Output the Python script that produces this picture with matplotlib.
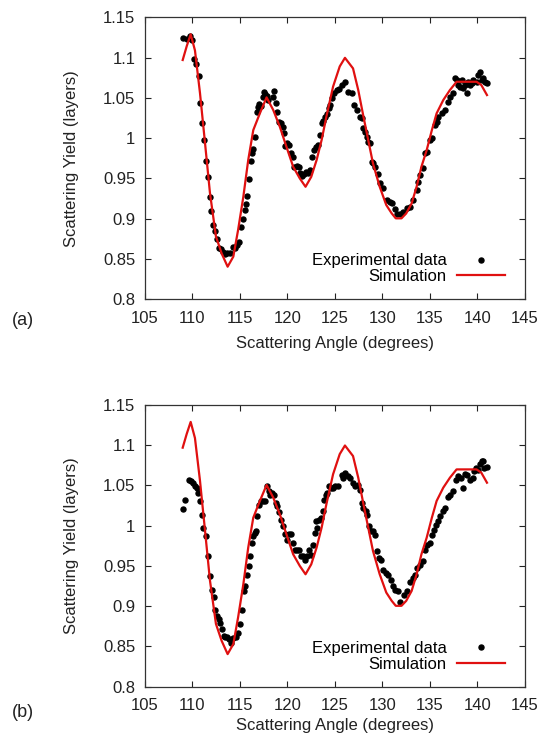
import matplotlib
matplotlib.use('Agg')
import matplotlib.pyplot as plt
from matplotlib.ticker import FormatStrFormatter

plt.rcParams['font.family'] = ['Liberation Sans', 'DejaVu Sans']

# simulation (same curve in both panels)
sim_angle = [108.97, 109.39, 109.81, 110.26, 110.79, 111.32, 111.84, 112.47, 113.07, 113.7,
             114.3, 114.8, 115.35, 115.87, 116.4, 117.1, 117.8, 118.5, 119.2, 119.9,
             120.6, 121.3, 121.9, 122.5, 123.07, 123.6, 124.1, 124.8, 125.5, 126.05,
             126.9, 127.45, 128.0, 128.5, 129.0, 129.7, 130.4, 130.97, 131.4, 132.0,
             132.5, 133.07, 133.6, 134.1, 134.65, 135.2, 135.7, 136.4, 137.1, 137.8,
             139.9, 140.4, 141.0]
sim_yield = [1.097, 1.114, 1.129, 1.109, 1.056, 0.994, 0.932, 0.878, 0.857, 0.8405,
             0.853, 0.886, 0.927, 0.973, 1.010, 1.031, 1.0506, 1.035, 1.014, 0.989,
             0.9645, 0.950, 0.9397, 0.952, 0.973, 0.998, 1.027, 1.064, 1.089, 1.0997,
             1.0866, 1.0597, 1.0266, 0.9977, 0.9687, 0.94, 0.917, 0.9067, 0.9005, 0.9005,
             0.9067, 0.919, 0.94, 0.9645, 0.985, 1.010, 1.0308, 1.0473, 1.0597, 1.07,
             1.07, 1.066, 1.0535]

# experimental data, panel (a)
angle_a = [108.96, 109.39, 109.74, 109.91, 110.16, 110.37, 110.65, 110.82, 111.04, 111.25,
           111.42, 111.63, 111.81, 111.95, 112.19, 112.40, 112.61, 112.82, 113.04, 113.25,
           113.46, 113.67, 113.95, 114.23, 114.44, 114.65, 114.89, 115.07, 115.28, 115.49,
           115.63, 115.70, 115.91, 116.12, 116.26, 116.40, 116.54, 116.75, 116.89, 117.04,
           117.18, 117.39, 117.53, 117.67, 117.81, 117.98, 118.44, 118.61, 118.75, 118.93,
           119.14, 119.32, 119.49, 119.63, 119.77, 119.91, 120.19, 120.33, 120.54, 120.72,
           120.96, 121.18, 121.32, 121.53, 121.74, 121.95, 122.19, 122.37, 122.58, 122.79,
           123.0, 123.18, 123.42, 123.60, 123.77, 123.95, 124.12, 124.33, 124.47, 124.68,
           124.89, 125.18, 125.46, 125.70, 126.05, 126.40, 126.75, 127.0, 127.28, 127.63,
           127.81, 127.98, 128.16, 128.33, 128.51, 128.68, 128.86, 129.04, 129.21, 129.56,
           129.74, 130.09, 130.44, 130.79, 130.96, 131.32, 131.49, 131.84, 132.19, 132.54,
           132.89, 133.25, 133.60, 133.77, 133.95, 134.30, 134.47, 134.65, 135.0, 135.18,
           135.53, 135.70, 135.88, 136.23, 136.58, 136.93, 137.11, 137.46, 137.63, 137.81,
           137.98, 138.16, 138.33, 138.51, 138.68, 138.86, 139.04, 139.21, 139.39, 139.56,
           139.91, 140.09, 140.26, 140.44, 140.61, 140.79, 140.96]
yield_a = [1.1247, 1.1226, 1.1267, 1.1218, 1.0978, 1.092, 1.0771, 1.0432, 1.0192, 0.9977,
           0.972, 0.9522, 0.9274, 0.9096, 0.8922, 0.8852, 0.8753, 0.8637, 0.8624, 0.8591,
           0.8562, 0.8571, 0.8579, 0.8645, 0.8637, 0.8674, 0.8715, 0.8902, 0.8997, 0.9108,
           0.9183, 0.9286, 0.9497, 0.972, 0.9811, 0.9861, 1.0018, 1.0328, 1.039, 1.0419,
           1.0403, 1.0506, 1.0568, 1.0548, 1.0523, 1.0473, 1.0514, 1.0589, 1.044, 1.0328,
           1.0204, 1.0184, 1.0142, 1.006, 0.9902, 0.9935, 0.9915, 0.9811, 0.977, 0.9646,
           0.9654, 0.9646, 0.9563, 0.9534, 0.9551, 0.9584, 0.9563, 0.9605, 0.977, 0.9853,
           0.9894, 0.991, 1.0039, 1.0192, 1.0213, 1.0258, 1.03, 1.037, 1.0411, 1.0494,
           1.0556, 1.0597, 1.0605, 1.0659, 1.07, 1.0577, 1.0556, 1.0411, 1.0349, 1.0266,
           1.0246, 1.0122, 1.008, 1.0018, 0.9956, 0.9935, 0.9708, 0.9687, 0.9638, 0.9555,
           0.9439, 0.9377, 0.9232, 0.9212, 0.9191, 0.9117, 0.9059, 0.9059, 0.9088, 0.9129,
           0.915, 0.9232, 0.9356, 0.946, 0.9543, 0.9625, 0.9811, 0.9832, 0.9977, 0.9998,
           1.0163, 1.0204, 1.0266, 1.0308, 1.0349, 1.0452, 1.0506, 1.0556, 1.0742, 1.0721,
           1.0659, 1.0639, 1.0721, 1.0618, 1.0659, 1.0556, 1.07, 1.0659, 1.068, 1.0721,
           1.07, 1.0783, 1.0825, 1.0721, 1.0742, 1.07, 1.068]

# experimental data, panel (b)
angle_b = [109.04, 109.25, 109.63, 109.84, 110.09, 110.30, 110.44, 110.61, 110.79, 111.0,
           111.14, 111.42, 111.60, 111.84, 112.02, 112.26, 112.40, 112.61, 112.75, 112.89,
           113.11, 113.32, 113.46, 113.67, 113.88, 114.09, 114.30, 114.54, 114.79, 115.0,
           115.21, 115.42, 115.56, 115.70, 115.91, 116.05, 116.26, 116.40, 116.54, 116.68,
           116.82, 117.04, 117.25, 117.46, 117.67, 117.88, 118.02, 118.16, 118.37, 118.58,
           118.79, 118.93, 119.14, 119.35, 119.56, 119.77, 119.91, 120.12, 120.33, 120.54,
           120.82, 121.04, 121.25, 121.46, 121.67, 121.88, 122.09, 122.30, 122.44, 122.65,
           122.86, 123.0, 123.14, 123.35, 123.49, 123.70, 123.84, 124.05, 124.19, 124.40,
           124.54, 124.75, 125.0, 125.35, 125.70, 125.88, 126.05, 126.40, 126.58, 126.86,
           127.11, 127.46, 127.63, 127.81, 127.98, 128.26, 128.40, 128.61, 128.75, 128.96,
           129.21, 129.39, 129.67, 129.84, 130.09, 130.37, 130.61, 130.86, 131.14, 131.32,
           131.67, 131.84, 132.26, 132.61, 132.89, 133.18, 133.42, 133.67, 133.95, 134.23,
           134.47, 134.72, 135.0, 135.18, 135.42, 135.63, 135.88, 136.05, 136.40, 136.58,
           136.93, 137.11, 137.46, 137.74, 137.98, 138.23, 138.44, 138.68, 138.93, 139.21,
           139.49, 139.63, 139.84, 140.05, 140.26, 140.47, 140.61, 140.68, 140.96]
yield_b = [1.0207, 1.0315, 1.0564, 1.056, 1.0531, 1.0498, 1.0469, 1.0407, 1.0303, 1.0137,
           0.9971, 0.9867, 0.9618, 0.9378, 0.9203, 0.912, 0.8954, 0.888, 0.8838, 0.8788,
           0.8714, 0.8631, 0.8614, 0.8622, 0.8589, 0.8539, 0.8602, 0.8622, 0.8664, 0.878,
           0.8954, 0.9183, 0.9253, 0.939, 0.9494, 0.9618, 0.9784, 0.9876, 0.9909, 0.9929,
           1.0124, 1.0261, 1.0303, 1.0303, 1.0303, 1.049, 1.0427, 1.0386, 1.0407, 1.0386,
           1.0282, 1.0241, 1.0166, 1.0075, 0.9992, 0.99, 0.9826, 0.99, 0.99, 0.9784,
           0.9701, 0.9693, 0.9693, 0.9618, 0.9618, 0.9577, 0.9627, 0.9693, 0.9639, 0.9763,
           0.9909, 1.0054, 0.9971, 1.0075, 1.0095, 1.0178, 1.0324, 1.0386, 1.0407, 1.049,
           1.0469, 1.0469, 1.049, 1.049, 1.0635, 1.0593, 1.0656, 1.0614, 1.0593, 1.0531,
           1.0498, 1.051, 1.0448, 1.0282, 1.022, 1.0178, 1.0137, 0.9992, 0.9929, 0.9929,
           0.9888, 0.968, 0.9598, 0.9577, 0.9452, 0.9411, 0.939, 0.9328, 0.9245, 0.9203,
           0.9183, 0.9058, 0.9141, 0.9183, 0.9307, 0.9349, 0.939, 0.9473, 0.9515, 0.9556,
           0.9701, 0.9763, 0.9784, 0.9888, 0.9942, 1.0004, 1.0054, 1.0116, 1.0187, 1.022,
           1.0357, 1.0386, 1.0427, 1.0573, 1.0614, 1.0593, 1.0469, 1.0647, 1.0635, 1.0573,
           1.0593, 1.0676, 1.0718, 1.0697, 1.0772, 1.0801, 1.0809, 1.0718, 1.073]

xticks = [105, 110, 115, 120, 125, 130, 135, 140, 145]
yticks = [0.8, 0.85, 0.9, 0.95, 1, 1.05, 1.1, 1.15]

fig = plt.figure(figsize=(5.43, 7.36), dpi=100)
ax_a = fig.add_axes([0.267, 0.5933, 0.6998, 0.3832])
ax_b = fig.add_axes([0.267, 0.067, 0.6998, 0.3827])

for ax, ang, yld, tag, ty, lp in [(ax_a, angle_a, yield_a, '(a)', 0.565, 7),
                                  (ax_b, angle_b, yield_b, '(b)', 0.032, 3.5)]:
    ax.plot(ang, yld, 'o', color='black', markersize=3.6, label='Experimental data')
    ax.plot(sim_angle, sim_yield, '-', color='#e01010', lw=1.6, label='Simulation')
    ax.set_xlim(105, 145)
    ax.set_ylim(0.8, 1.15)
    ax.set_xticks(xticks)
    ax.set_yticks(yticks)
    ax.yaxis.set_major_formatter(FormatStrFormatter('%g'))
    ax.tick_params(direction='in', top=True, right=True, length=4, width=0.8,
                   labelsize=12, colors='#222222')
    ax.tick_params(axis='x', pad=8.5)
    ax.tick_params(axis='y', pad=7)
    for s in ax.spines.values():
        s.set_linewidth(0.9)
        s.set_color('#333333')
    ax.set_xlabel('Scattering Angle (degrees)', fontsize=12, labelpad=lp, color='#222222')
    ax.set_ylabel('Scattering Yield (layers)', fontsize=12, labelpad=17, color='#222222')
    ax.legend(loc='lower right', frameon=False, markerfirst=False, fontsize=12,
              handlelength=2.9, handletextpad=0.6, labelspacing=0.05,
              bbox_to_anchor=(0.987, 0.0))
    fig.text(0.022, ty, tag, fontsize=13, color='#222222', va='center')

fig.savefig('out.png', dpi=100)
